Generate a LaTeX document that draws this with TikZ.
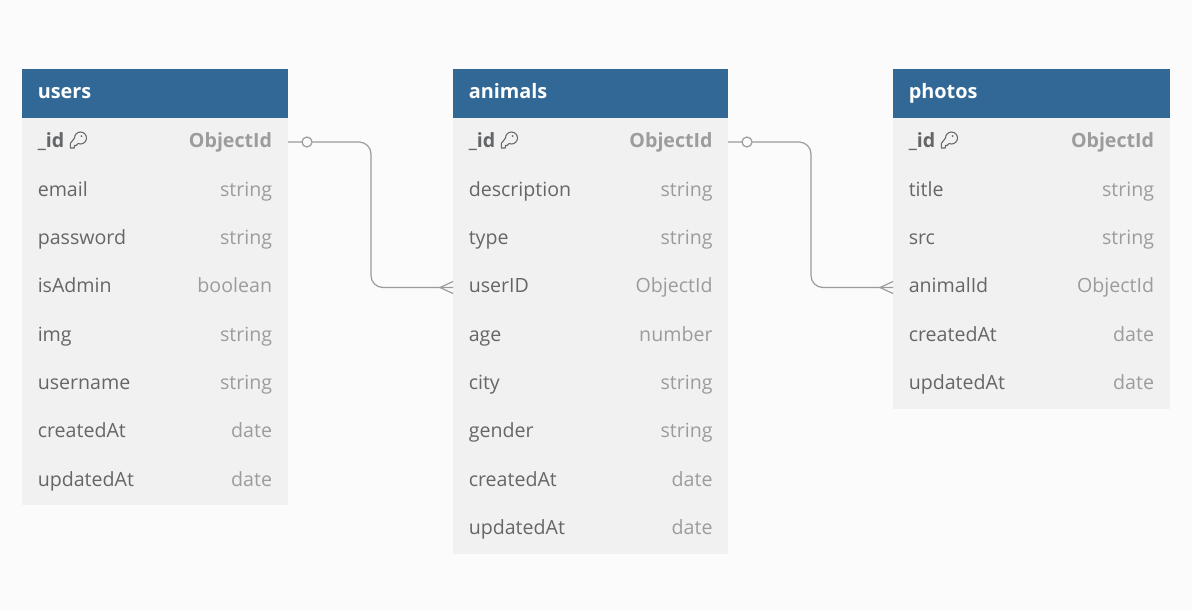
\documentclass[tikz,border=0pt]{standalone}
\usepackage{fontspec}
\setmainfont{Open Sans}
\definecolor{bgc}{HTML}{FBFBFB}
\definecolor{bodyc}{HTML}{F1F1F1}
\definecolor{headc}{HTML}{316896}
\definecolor{namec}{HTML}{646668}
\definecolor{typec}{HTML}{9C9C9C}
\definecolor{linec}{HTML}{9B9BA0}
\tikzset{
  tbody/.style={fill=bodyc,draw=none,inner sep=0pt,anchor=north west},
  thead/.style={fill=headc,draw=none,inner sep=0pt,anchor=north west},
  ttitle/.style={anchor=base west,inner sep=0pt,text=white,font=\fontsize{14.9}{18}\selectfont\bfseries},
  fname/.style={anchor=base west,inner sep=0pt,text=namec,font=\fontsize{14.7}{18}\selectfont},
  ftype/.style={anchor=base east,inner sep=0pt,text=typec,font=\fontsize{14.7}{18}\selectfont},
  pkname/.style={fname,font=\fontsize{14.7}{18}\selectfont\bfseries},
  pktype/.style={ftype,font=\fontsize{14.7}{18}\selectfont\bfseries},
  rel/.style={draw=linec,line width=0.9pt,rounded corners=9pt},
  relend/.style={draw=linec,line width=0.9pt},
  opt/.style={circle,draw=linec,line width=0.9pt,fill=bgc,minimum size=7.5pt,inner sep=0pt},
  keyicon/.style={draw=namec,line width=0.8pt,line join=round}
}
\newcommand{\keyat}[2]{%
  \begin{scope}[shift={(#1,#2)}]
    \draw[keyicon] (-6,0) .. controls (-6,-3.3) and (-3.3,-6) .. (0,-6)
      .. controls (3.3,-6) and (6,-3.3) .. (6,0)
      .. controls (6,3.3) and (3.3,6) .. (0,6)
      .. controls (-1,6) and (-2,5.7) .. (-2.5,5.5)
      -- (-4.5,7.5) -- (-6.2,7.5) -- (-6.2,10) -- (-10.2,10) -- (-10.2,5.5) -- cycle;
    \fill[namec] (1,-2) circle[radius=1];
  \end{scope}}
\begin{document}
\begin{tikzpicture}[x=0.75pt,y=-0.75pt]
\useasboundingbox[fill=bgc] (0,0) rectangle (1192,611);
\node[tbody,minimum width=199.5pt,minimum height=327pt] (usersbody) at (22,68.5) {};
\node[thead,minimum width=199.5pt,minimum height=36.75pt] (usershead) at (22,68.5) {};
\node[tbody,minimum width=206.25pt,minimum height=364pt] (animalsbody) at (453,68.5) {};
\node[thead,minimum width=206.25pt,minimum height=36.75pt] (animalshead) at (453,68.5) {};
\node[tbody,minimum width=207.75pt,minimum height=255pt] (photosbody) at (893,68.5) {};
\node[thead,minimum width=207.75pt,minimum height=36.75pt] (photoshead) at (893,68.5) {};
\node[ttitle] (userst) at (37.5,98.7) {users};
\node[ttitle] (animalst) at (468.5,98.7) {animals};
\node[ttitle] (photost) at (908.5,98.7) {photos};
\node[pkname] (u0) at (37.5,147) {\_id};
\node[pktype] (ut0) at (272.3,147) {ObjectId};
\foreach \i/\n/\t/\y in {1/email/string/196,2/password/string/244,3/isAdmin/boolean/292,4/img/string/341,5/username/string/389,6/createdAt/date/437,7/updatedAt/date/486}{
  \node[fname] (u\i) at (37.5,\y) {\n};
  \node[ftype] (ut\i) at (272.3,\y) {\t};
}
\node[pkname] (a0) at (468.5,147) {\_id};
\node[pktype] (at0) at (712.8,147) {ObjectId};
\foreach \i/\n/\t/\y in {1/description/string/196,2/type/string/244,3/userID/ObjectId/292,4/age/number/341,5/city/string/389,6/gender/string/437,7/createdAt/date/486,8/updatedAt/date/534}{
  \node[fname] (a\i) at (468.5,\y) {\n};
  \node[ftype] (at\i) at (712.8,\y) {\t};
}
\node[pkname] (p0) at (908.5,147) {\_id};
\node[pktype] (pt0) at (1154.3,147) {ObjectId};
\foreach \i/\n/\t/\y in {1/title/string/196,2/src/string/244,3/animalId/ObjectId/292,4/createdAt/date/341,5/updatedAt/date/389}{
  \node[fname] (p\i) at (908.5,\y) {\n};
  \node[ftype] (pt\i) at (1154.3,\y) {\t};
}
\keyat{80.5}{138}
\keyat{511.5}{138}
\keyat{951.5}{138}
\coordinate (usersout) at (288,142);
\coordinate (animalsin) at (453,287.5);
\coordinate (animalsout) at (728,142);
\coordinate (photosin) at (893,287.5);
\coordinate (crowa) at (440,287.5);
\coordinate (crowb) at (880,287.5);
\coordinate (crowa1) at (453,281.5);
\coordinate (crowa2) at (453,293.5);
\coordinate (crowb1) at (893,281.5);
\coordinate (crowb2) at (893,293.5);
\draw[rel] (usersout) -- (371,142) -- (371,287.5) -- (animalsin);
\draw[rel] (animalsout) -- (811,142) -- (811,287.5) -- (photosin);
\draw[relend] (crowa1) -- (crowa) -- (crowa2);
\draw[relend] (crowb1) -- (crowb) -- (crowb2);
\node[opt] (opta) at (307,142) {};
\node[opt] (optb) at (747,142) {};
\end{tikzpicture}
\end{document}
